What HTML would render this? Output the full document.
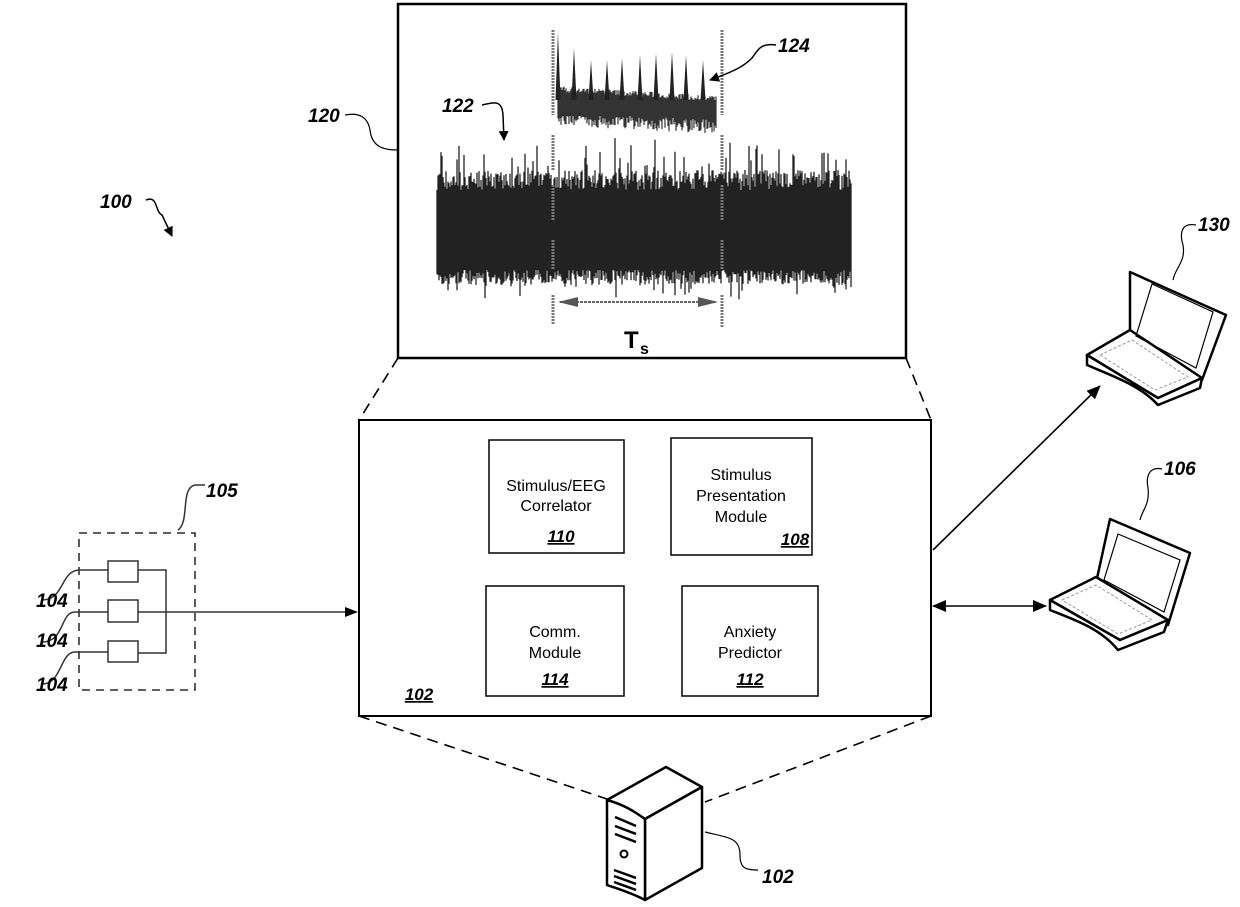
<!DOCTYPE html>
<html><head><meta charset="utf-8"><style>
body{margin:0;background:#fff}
svg{display:block}
text{font-family:"Liberation Sans",sans-serif;fill:#000}
.lbl{font-style:italic;font-weight:bold;font-size:19px}
.mod{font-size:16px;text-anchor:middle}
.num{font-style:italic;font-weight:bold;font-size:17px;text-decoration:underline;text-anchor:middle}
</style></head><body>
<svg id="s" width="1240" height="907" viewBox="0 0 1240 907" xmlns="http://www.w3.org/2000/svg">
<defs>
<marker id="ah" markerWidth="10" markerHeight="10" refX="9" refY="5" orient="auto" markerUnits="userSpaceOnUse"><path d="M0,0 L10,5 L0,10 z" fill="#000"/></marker>
<marker id="ahs" markerWidth="14" markerHeight="12" refX="13" refY="6" orient="auto-start-reverse" markerUnits="userSpaceOnUse"><path d="M0,0 L14,6 L0,12 z" fill="#000"/></marker>
</defs>
<rect x="398" y="4" width="508" height="354" fill="none" stroke="#000" stroke-width="2.5"/>
<g id="eeg"></g>
<g stroke="#777" stroke-width="3" stroke-dasharray="2,1">
<line x1="553" y1="30" x2="553" y2="115"/><line x1="553" y1="135" x2="553" y2="170"/><line x1="553" y1="185" x2="553" y2="220"/><line x1="553" y1="240" x2="553" y2="270"/><line x1="553" y1="295" x2="553" y2="325"/>
<line x1="722" y1="30" x2="722" y2="115"/><line x1="722" y1="135" x2="722" y2="170"/><line x1="722" y1="185" x2="722" y2="220"/><line x1="722" y1="240" x2="722" y2="270"/><line x1="722" y1="295" x2="722" y2="328"/>
</g>
<line x1="560" y1="302" x2="716" y2="302" stroke="#666" stroke-width="2" stroke-dasharray="3,1"/>
<path d="M558,302 L578,297 L578,307 z M718,302 L698,297 L698,307 z" fill="#555"/>
<text x="624" y="348" font-size="24" font-weight="bold">T</text><text x="640" y="354" font-size="16" font-weight="bold">s</text>
<text x="442" y="112" class="lbl">122</text>
<path d="M482,105 C495,102 502,100 503,115 L504,140" fill="none" stroke="#000" stroke-width="1.5" marker-end="url(#ah)"/>
<text x="778" y="52" class="lbl">124</text>
<path d="M776,45 C760,43 758,50 752,58 C745,65 738,70 710,80" fill="none" stroke="#000" stroke-width="1.5" marker-end="url(#ah)"/>
<text x="308" y="122" class="lbl">120</text>
<path d="M345,115 C360,112 368,118 370,130 C372,148 385,150 398,150" fill="none" stroke="#000" stroke-width="1.2"/>
<text x="100" y="208" class="lbl">100</text>
<path d="M146,200 C158,195 155,212 162,215 L172,236" fill="none" stroke="#000" stroke-width="1.5" marker-end="url(#ah)"/>
<g stroke="#000" stroke-width="1.6" stroke-dasharray="11,7" fill="none">
<line x1="398" y1="358" x2="359" y2="420"/><line x1="906" y1="358" x2="931" y2="420"/>
<line x1="359" y1="716" x2="610" y2="800"/><line x1="931" y1="716" x2="705" y2="802"/>
</g>
<rect x="359" y="420" width="572" height="296" fill="#fff" stroke="#000" stroke-width="2"/>
<g fill="none" stroke="#000" stroke-width="1.5">
<rect x="489" y="440" width="135" height="113"/><rect x="671" y="438" width="141" height="117"/>
<rect x="486" y="586" width="138" height="110"/><rect x="682" y="586" width="136" height="110"/>
</g>
<text x="556" y="491" class="mod">Stimulus/EEG</text><text x="556" y="511" class="mod">Correlator</text><text x="561" y="542" class="num">110</text>
<text x="741" y="480" class="mod">Stimulus</text><text x="741" y="501" class="mod">Presentation</text><text x="741" y="522" class="mod">Module</text><text x="795" y="545" class="num">108</text>
<text x="555" y="637" class="mod">Comm.</text><text x="555" y="658" class="mod">Module</text><text x="555" y="685" class="num">114</text>
<text x="750" y="637" class="mod">Anxiety</text><text x="750" y="658" class="mod">Predictor</text><text x="750" y="685" class="num">112</text>
<text x="419" y="700" class="num">102</text>
<rect x="79" y="533" width="116" height="157" fill="none" stroke="#000" stroke-width="1.3" stroke-dasharray="8,6"/>
<g fill="none" stroke="#333" stroke-width="1.5">
<rect x="108" y="561" width="30" height="21"/><rect x="108" y="600" width="30" height="22"/><rect x="108" y="641" width="30" height="21"/>
<path d="M138,570 H166 V653 H138 M138,612 H355"/>
<path d="M108,570 H80 C60,570 65,600 42,600 M108,612 H75 C60,612 65,642 42,642 M108,652 H75 C60,652 62,684 42,684"/>
<path d="M178,530 C190,522 180,488 195,485 H205"/>
</g>
<path d="M345,607 L358,612 L345,617 z" fill="#000"/>
<text x="206" y="497" class="lbl">105</text>
<text x="36" y="607" class="lbl">104</text><text x="36" y="647" class="lbl">104</text><text x="36" y="691" class="lbl">104</text>
<line x1="933" y1="550" x2="1100" y2="386" stroke="#000" stroke-width="1.6" marker-end="url(#ahs)"/>
<line x1="933" y1="606" x2="1046" y2="606" stroke="#000" stroke-width="1.6" marker-start="url(#ahs)" marker-end="url(#ahs)"/>
<g fill="#fff" stroke="#000" stroke-width="2.5" stroke-linejoin="round">
<path d="M1130,272 L1226,315 L1202,380 L1130,340 z"/>
<path d="M1087,355 L1130,330 L1202,378 L1158,398 z"/>
<path d="M1087,355 L1087,365 C1110,375 1140,385 1158,405 L1200,388 L1202,378 L1158,398 z"/>
</g>
<path d="M1152,284 L1213,312 L1196,368 L1136,336 z" fill="none" stroke="#000" stroke-width="1.2"/>
<path d="M1100,355 L1132,340 L1188,377 L1155,390 z" fill="none" stroke="#999" stroke-width="1" stroke-dasharray="3,2"/>
<text x="1198" y="231" class="lbl">130</text>
<path d="M1196,225 C1180,222 1180,235 1183,245 C1186,262 1175,268 1173,280" fill="none" stroke="#000" stroke-width="1.2"/>
<g fill="#fff" stroke="#000" stroke-width="2.5" stroke-linejoin="round">
<path d="M1110,519 L1190,553 L1168,625 L1096,583 z"/>
<path d="M1050,600 L1096,577 L1168,620 L1120,640 z"/>
<path d="M1050,600 L1050,610 C1075,620 1100,628 1118,650 L1164,632 L1168,620 L1120,640 z"/>
</g>
<path d="M1118,534 L1180,560 L1164,612 L1104,580 z" fill="none" stroke="#000" stroke-width="1.2"/>
<path d="M1062,600 L1096,585 L1152,620 L1118,634 z" fill="none" stroke="#999" stroke-width="1" stroke-dasharray="3,2"/>
<text x="1164" y="475" class="lbl">106</text>
<path d="M1162,469 C1148,466 1146,478 1148,488 C1150,505 1142,510 1140,520" fill="none" stroke="#000" stroke-width="1.2"/>
<g fill="#fff" stroke="#000" stroke-width="2.5" stroke-linejoin="round">
<path d="M607,800 L666,767 L702,787 L645,819 z"/>
<path d="M645,819 L702,787 L702,868 L645,900 z"/>
<path d="M607,800 C625,805 635,812 645,819 L645,900 C630,892 615,888 607,885 z"/>
</g>
<g stroke="#000" stroke-width="2.5">
<line x1="615" y1="817" x2="636" y2="826"/><line x1="615" y1="826" x2="636" y2="834"/><line x1="615" y1="834" x2="636" y2="842"/>
<line x1="614" y1="870" x2="636" y2="878"/><line x1="614" y1="876" x2="636" y2="884"/><line x1="614" y1="882" x2="636" y2="890"/>
</g>
<circle cx="624" cy="854" r="3.5" fill="none" stroke="#000" stroke-width="2"/>
<path d="M705,832 C730,838 740,838 740,855 C740,868 745,870 758,870" fill="none" stroke="#000" stroke-width="1.2"/>
<text x="762" y="883" class="lbl">102</text>
</svg>
<script>
(function(){
var seed=7;function r(){seed=(seed*16807)%2147483647;return seed/2147483647;}
var g=document.getElementById('eeg'),ns='http://www.w3.org/2000/svg';
function path(d,c,w){var p=document.createElementNS(ns,'path');p.setAttribute('d',d);p.setAttribute('stroke',c);p.setAttribute('stroke-width',w);p.setAttribute('fill','none');g.appendChild(p);}
var bg=document.createElementNS(ns,'rect');bg.setAttribute('x',437);bg.setAttribute('y',195);bg.setAttribute('width',414);bg.setAttribute('height',75);bg.setAttribute('fill','#000');g.appendChild(bg);
var d='';
for(var x=437;x<=851;x+=1){var top=190-r()*20-(r()<0.15?r()*35:0);var bot=270+r()*15+(r()<0.1?r()*18:0);d+='M'+x+','+top.toFixed(1)+'V'+bot.toFixed(1);}
path(d,'#222',1.3);
var b=document.createElementNS(ns,'rect');b.setAttribute('x',558);b.setAttribute('y',100);b.setAttribute('width',158);b.setAttribute('height',16);b.setAttribute('fill','#222');g.appendChild(b);
d='';
for(var x=558;x<=716;x+=1){var t=92+(x-558)*0.06-r()*6;var bb=112+(x-558)*0.05+r()*14;d+='M'+x+','+t.toFixed(1)+'V'+bb.toFixed(1);}
path(d,'#333',1.2);
var sp=[[558,32],[574,48],[591,60],[607,60],[622,58],[640,55],[656,53],[672,52],[686,55],[703,60]];
d='';sp.forEach(function(s){d+='M'+(s[0]-2.5)+',100L'+s[0]+','+s[1]+'L'+(s[0]+2.5)+',100Z';});
var p=document.createElementNS(ns,'path');p.setAttribute('d',d);p.setAttribute('fill','#222');g.appendChild(p);
})();
</script>
</body></html>
